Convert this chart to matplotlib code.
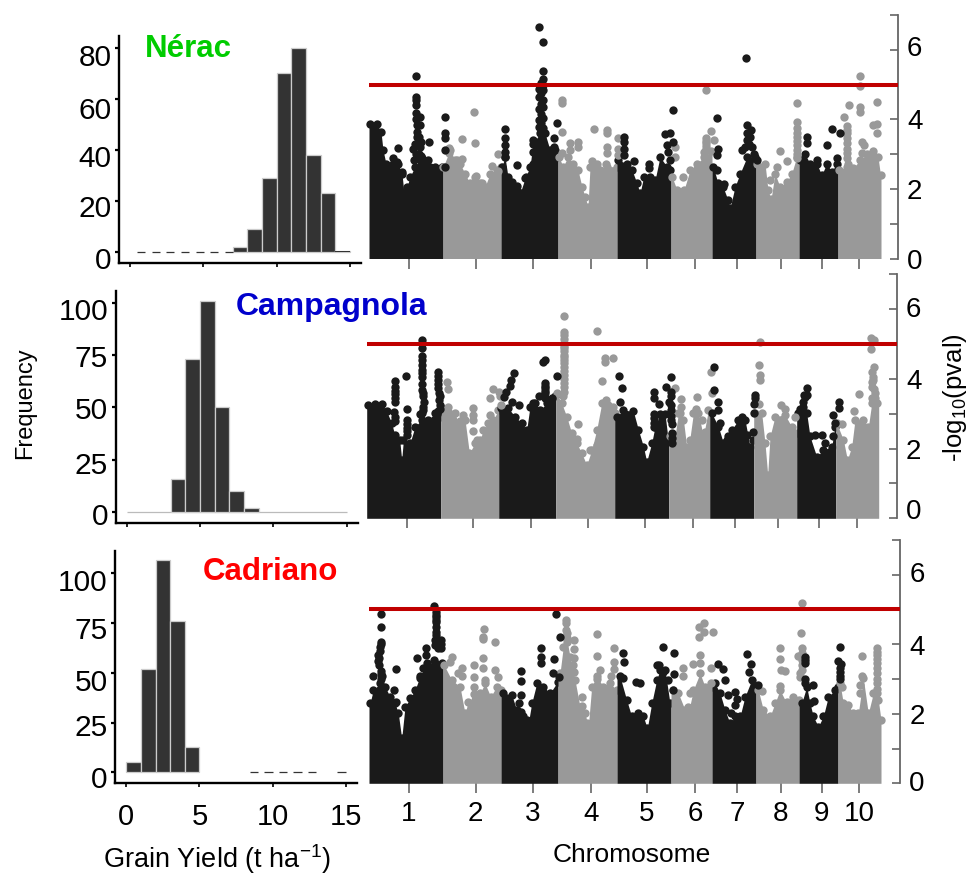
import numpy as np
import matplotlib
matplotlib.use('Agg')
import matplotlib.pyplot as plt
from matplotlib.transforms import ScaledTranslation

plt.rcParams['font.family'] = ['Liberation Sans', 'DejaVu Sans']
plt.rcParams['mathtext.default'] = 'regular'

W, H = 975, 874

# histogrammes (largeur de classe 1 t/ha)
bins = np.arange(16)
nerac_counts = [0, 0, 0, 0, 0, 0, 0, 2, 9, 29, 70, 80, 38, 23, 0.5]
campagnola_counts = [0, 0, 0, 16, 73, 101, 50, 10, 2, 0, 0, 0, 0, 0, 0]
cadriano_counts = [5, 52, 107, 76, 13, 0, 0, 0, 0, 0, 0, 0, 0, 0, 0]
nerac_dash = [0, 1, 2, 3, 4, 5, 6]
cadriano_dash = [8, 9, 10, 11, 12, 14]

# manhattan : position genomique, -log10(p)
chrom_ends = [74, 132, 189, 248, 302, 343, 387, 430, 469, 512]
chrom_ticks = [40, 106.7, 164, 221.7, 278, 326, 368, 411.7, 452.7, 490]
chrom_labels = ['1', '2', '3', '4', '5', '6', '7', '8', '9', '10']
threshold = 5

nerac_top = [(1, 3.88), (8, 3.86), (12, 3.64), (14, 3.12), (17, 2.73), (24, 2.73), (29, 2.73), (33, 2.44),
             (35, 1.87), (38, 2.06), (41, 2.35), (46, 2.64), (51, 2.83), (56, 2.73), (61, 2.64), (66, 2.64), (73, 2.64),
             (74.3, 2.64), (81, 3.12), (86, 2.83), (91, 2.73), (96, 2.44), (101, 2.16), (106, 2.35), (111, 2.16),
             (116, 2.06), (121, 2.44), (128, 2.54), (132, 2.64),
             (133, 2.64), (136, 2.92), (139, 2.35), (143, 2.2), (148, 1.97), (151, 1.87), (156, 2.3), (161, 2.64),
             (164, 3.3), (171, 3.6), (176, 3.6), (181, 3.12), (186, 3.12), (189, 2.92),
             (190, 2.92), (194, 2.64), (199, 2.92), (204, 2.73), (209, 2.54), (213, 2.06), (216, 1.77), (219, 1.49),
             (221, 2.64), (226, 2.64), (231, 2.54), (238, 2.64), (248, 2.64),
             (249, 2.83), (258, 2.73), (263, 2.54), (268, 2.16), (271, 1.87), (274.7, 2.35), (281, 2.35), (286, 2.25),
             (291, 2.92), (298, 2.64), (301, 2.54),
             (303, 2.35), (308, 1.97), (315, 1.97), (321, 2.54), (328, 2.73), (335, 2.92), (342, 3.1),
             (344.3, 2.64), (349, 2.16), (354, 2.06), (359, 1.68), (361, 1.44), (366, 2.06), (371, 2.44), (378, 2.92), (386, 2.92),
             (387.7, 2.73), (396, 2.73), (399, 1.97), (402, 1.7), (406, 2.44), (411, 2.06), (417.7, 2.2), (422.7, 2.44), (427.7, 2.92),
             (431, 2.83), (436, 3.0), (441, 2.73), (447.7, 2.73), (452.7, 2.4), (457.7, 2.73), (462.7, 2.5), (467.7, 2.73),
             (469.7, 2.54), (478, 2.64), (484.3, 2.6), (491, 2.83), (497.7, 3.0), (504.3, 3.1), (509, 2.92), (511.5, 2.4)]
nerac_dark = [(46.7, 5.25), (46.7, 4.65), (46.7, 4.55), (46.7, 4.41), (46.7, 4.17), (51, 4.06), (51, 3.84), (48.3, 3.64),
              (48.3, 3.5), (44.3, 3.16), (51, 3.21), (60.3, 3.36), (28.7, 3.19), (24.3, 2.9), (27.7, 2.76), (32.7, 2.48),
              (59.3, 2.83), (45, 2.83), (51.7, 2.94), (76, 4.07), (76, 3.61), (76, 3.45), (76, 3.12), (76, 2.64),
              (46.7, 4.0), (48, 3.85), (50, 3.5), (46, 3.3), (52, 3.35), (47, 3.0), (50, 3.0), (53, 2.9),
              (170, 6.65), (174.3, 6.21), (174.3, 5.4), (174.3, 5.15), (174.3, 4.99), (170.3, 4.86), (174.3, 4.84),
              (170.3, 4.65), (174.3, 4.55), (170.3, 4.31), (174.3, 4.36), (170.3, 3.98), (174.3, 4.03), (170.3, 3.79),
              (174.3, 3.74), (164.3, 3.4), (185, 3.45), (185, 3.21), (188.3, 3.9), (148.3, 2.68), (136, 3.71), (136, 3.47),
              (136, 3.25), (136, 3.07), (136, 2.92), (156.7, 2.35), (148.3, 2.08), (164.3, 3.07), (164.3, 2.73), (183.7, 3.1),
              (172, 5.05), (172, 4.75), (172.3, 4.45), (172, 4.15), (172, 3.9),
              (255, 3.48), (255, 3.36), (255, 3.16), (255, 2.97), (265, 2.8), (280, 2.73), (280, 2.59), (303.7, 4.28),
              (296, 3.58), (301, 3.6), (303.7, 3.36), (297.7, 3.26), (299.3, 3.07), (301, 2.83),
              (377.3, 5.75), (377.7, 3.85), (382.3, 3.69), (347.7, 4.05), (348.7, 3.16), (347.7, 2.97), (348, 2.54),
              (355.3, 2.13), (378, 3.4), (372.7, 3.12), (381, 3.5), (387.7, 2.83),
              (376, 3.2), (378, 3.6), (380, 3.3), (383, 3.2), (385, 3.0),
              (437.7, 3.5), (437.7, 3.33), (457.7, 3.26), (463, 3.71), (471, 3.6), (447.7, 2.83), (467.7, 2.88)]
nerac_grey = [(105, 4.21), (92.7, 3.43), (106, 3.31), (80.3, 3.19), (80.3, 3.02), (129, 3.01), (122.7, 2.66), (92.7, 2.86),
              (87.7, 2.83), (106.7, 2.37), (112.7, 2.18), (128.7, 2.52),
              (193, 4.55), (193, 4.48), (193, 3.63), (193, 3.02), (201, 3.31), (201, 3.12), (209, 3.34), (209, 3.21),
              (225.3, 3.71), (238, 3.69), (238, 3.62), (238, 3.21), (238, 3.02), (249.3, 3.45), (223.3, 2.81), (227.7, 2.73),
              (249.3, 3.16), (249.3, 2.97), (237, 2.73),
              (337.3, 4.84), (341.7, 3.67), (345, 3.42), (337, 3.45), (337, 3.31), (337, 3.16), (314, 2.35), (329, 2.67),
              (306, 3.21), (306, 2.92), (337, 3.38), (337, 3.24), (335, 3.05),
              (428, 4.46), (428, 3.93), (428, 3.74), (428, 3.5), (428, 3.26), (411.3, 3.1), (418, 2.79), (408.3, 2.62), (401, 2.25),
              (428, 3.62), (428, 3.38), (428, 3.13), (428, 3.0), (428, 2.9),
              (490.7, 5.25), (490.7, 4.97), (490.7, 4.36), (490.7, 4.2), (480.3, 4.41), (474.7, 4.06), (508, 4.49),
              (507.7, 3.88), (504.3, 3.84), (507.7, 3.62), (492.7, 3.36), (495, 3.26), (492.7, 3.02), (478.3, 3.81),
              (478.3, 3.6), (478.3, 3.31), (478.3, 3.02), (479.3, 2.73), (478.3, 3.7), (478.3, 3.45), (478.3, 3.15), (478.3, 2.9)]

campagnola_top = [(1.7, 3.26), (8.3, 3.29), (15, 3.29), (20, 3.07), (25, 2.73), (28, 2.4), (33, 2.25), (35, 1.68), (36.7, 2.25),
                  (43.3, 2.16), (48.3, 2.63), (55, 2.83), (61.7, 2.83), (68.3, 3.02), (73.3, 2.92),
                  (75, 3.16), (81.7, 3.21), (88.3, 3.02), (92.7, 2.63), (98.3, 2.83), (102.7, 1.87), (108.3, 2.16),
                  (113.3, 2.25), (116.7, 2.54), (121.7, 2.73), (126.7, 2.83), (131.7, 3.11),
                  (134, 3.16), (141.7, 3.16), (148.3, 2.92), (155, 2.73), (160, 2.54), (163.3, 3.21), (168.3, 3.3),
                  (173.3, 3.11), (180, 3.3), (188.3, 3.5),
                  (190, 3.59), (195, 3.3), (200, 2.92), (205, 2.44), (210, 2.16), (215, 1.87), (220, 1.53), (225, 1.96),
                  (230, 2.54), (235, 3.3), (241.7, 3.26), (248, 3.02),
                  (250, 2.92), (256.7, 3.11), (266.7, 3.07), (271.7, 2.54), (276.7, 2.06), (280, 1.63), (285, 2.16),
                  (288.3, 2.63), (293.3, 3.0), (298.3, 3.0), (301.7, 2.2),
                  (303.3, 2.35), (308.3, 2.35), (311.7, 3.02), (316.7, 2.83), (320, 2.06), (323, 2.25), (326.7, 3.02),
                  (331.7, 3.02), (336.7, 2.35), (341.7, 3.11),
                  (345, 3.02), (351.7, 2.63), (356.7, 2.16), (361.7, 2.35), (365, 2.54), (371.7, 2.83), (378.3, 2.83),
                  (383.3, 2.06), (386.7, 2.25),
                  (388.3, 3.02), (395, 3.02), (398.3, 2.16), (401, 1.25), (403.3, 2.35), (408.3, 2.92), (418.3, 2.97),
                  (425, 2.63), (430, 2.44),
                  (431.7, 3.02), (440, 3.02), (443.3, 2.35), (450, 1.77), (456.7, 1.96), (465, 2.06), (468.3, 2.63),
                  (470, 2.73), (476.7, 2.25), (480.7, 1.68), (485, 2.06), (488.3, 2.83), (496.7, 2.83), (501.7, 2.63),
                  (505, 3.3), (510, 3.3)]
campagnola_dark = [(55.7, 5.11), (55.7, 4.89), (55.7, 4.66), (55.7, 4.41), (55.7, 4.26), (55.7, 4.07), (55.7, 3.69), (56.7, 3.5),
                   (56.7, 3.21), (28.3, 3.95), (28.3, 3.78), (28.3, 3.57), (28.3, 3.35), (27.7, 3.05), (28.3, 2.78), (39.7, 4.08),
                   (40, 3.13), (40, 2.83), (40, 2.59), (40, 2.39), (71.7, 4.19), (71.7, 3.98), (71.7, 3.74), (73.3, 3.5),
                   (73.3, 3.26), (71.7, 3.07), (55, 3.02),
                   (55.7, 4.55), (55.7, 4.17), (55.7, 3.85), (56, 3.6), (57, 3.35), (56, 3.1), (53, 3.0),
                   (71.7, 4.08), (71.7, 3.86), (72, 3.6), (72, 3.4), (73, 3.15), (70, 3.0), (28.3, 3.65), (28.3, 3.45), (28, 2.9),
                   (40, 2.7), (40, 2.5),
                   (147.7, 4.16), (144.3, 3.97), (143.7, 3.8), (139.7, 3.64), (137.3, 3.48), (145, 3.35), (152.7, 3.24),
                   (178.7, 4.55), (176.3, 4.48), (190.7, 4.1), (178.7, 3.88), (178.7, 3.74), (178.7, 3.59), (172.3, 3.5),
                   (185, 3.45), (166.7, 3.3), (178.7, 3.8), (178.7, 3.65), (178.7, 3.45),
                   (252.7, 4.09), (255.3, 3.73), (253.7, 3.33), (287, 3.62), (292.7, 3.27), (287, 2.87), (287, 2.63),
                   (304.7, 4.06), (299.3, 3.78), (304.7, 3.62), (302, 3.35), (304, 3.11), (304, 2.83), (305, 2.44), (305, 2.16),
                   (304, 3.5), (304, 3.25), (304, 2.95), (305, 2.7), (305, 2.3), (287, 3.45), (287, 3.0), (287, 2.75),
                   (347.7, 4.34), (347.7, 3.67), (351, 3.35), (351, 3.11), (353.7, 2.73), (360, 2.25), (360, 1.9),
                   (388.3, 3.54), (388.3, 3.45), (387.3, 3.29), (387.3, 3.02), (386.7, 2.49), (375, 2.92), (380, 2.39),
                   (440.3, 3.73), (438.3, 3.48), (436.7, 3.35), (435, 3.11), (448.3, 2.39), (455.7, 2.39), (458.3, 2.17),
                   (437, 3.55), (436, 3.2), (433, 3.15), (440, 3.55),
                   (472, 3.35), (472, 3.16), (466.7, 2.97), (468.3, 2.73), (466.7, 2.35)]
campagnola_grey = [(80.3, 3.9), (81, 3.71), (126, 3.72), (123.3, 3.45), (132.3, 3.64), (133, 3.5), (134, 3.26), (123.3, 2.97),
                   (106.7, 3.16), (106.7, 2.97), (106.7, 2.83), (106.7, 2.52), (96.7, 2.97), (110, 2.25), (93.3, 2.78),
                   (197.3, 5.82), (197.3, 5.36), (197.3, 5.27), (197.3, 5.03), (197.3, 4.89), (197.3, 4.69), (197.3, 4.55),
                   (197.3, 4.34), (197.3, 4.12), (197.3, 3.88), (197.3, 3.64), (230.3, 5.39), (238.7, 4.6), (238.7, 4.5),
                   (197.3, 5.15), (197.3, 4.95), (197.3, 4.79), (197.3, 4.62), (197.3, 4.45), (197.3, 4.23), (197.3, 4.0),
                   (197.3, 3.76), (196, 3.5),
                   (246.3, 4.59), (235.7, 3.95), (211.7, 2.72), (210, 2.27), (223.7, 1.96), (230.3, 2.11), (239.3, 3.4), (246, 3.21),
                   (308.7, 3.75), (314.3, 3.42), (314.3, 3.2), (330.7, 3.48), (329, 3.13), (344.3, 4.2), (345, 3.59),
                   (313.3, 3.02), (335, 2.83), (338.3, 2.49),
                   (393.3, 5.06), (392.7, 4.39), (393.3, 4.12), (393.3, 3.98), (392.7, 3.29), (414, 3.24), (418, 3.14), (428, 2.9),
                   (504.3, 5.19), (507.7, 5.11), (504.7, 4.87), (507.7, 4.33), (505, 4.2), (506.7, 3.98), (505, 3.78),
                   (505, 3.45), (508, 3.45), (506, 4.05), (505, 3.9), (507, 3.7),
                   (508.3, 3.59), (492.3, 3.58), (475, 2.71), (487.3, 3.07)]

cadriano_top = [(1, 2.3), (4.3, 2.68), (11, 2.87), (16, 2.78), (21, 2.49), (26, 2.3), (29.3, 2.01), (32.7, 1.29), (36, 2.2),
                (41, 2.44), (46, 2.68), (51, 3.07), (57.7, 3.45), (66, 3.45), (73.3, 3.45),
                (75, 3.4), (82.7, 2.97), (91, 2.78), (96, 2.01), (99.3, 2.35), (106, 2.39), (111, 2.59), (116, 2.87),
                (121.7, 2.49), (127.7, 2.78), (132, 2.68),
                (134.3, 2.59), (142.7, 2.54), (147.7, 2.11), (154.3, 1.92), (159.3, 1.72), (162.7, 2.3), (167.7, 2.87),
                (174.3, 2.78), (181, 2.59), (188.7, 2.92),
                (191, 3.16), (194.3, 3.93), (197.7, 4.17), (201, 3.64), (206, 2.97), (211, 2.2), (216, 2.01), (219.3, 1.63),
                (222.7, 2.78), (227.7, 3.07), (234.3, 2.78), (241, 2.87), (248, 2.68),
                (251, 3.07), (257.7, 2.39), (262.7, 1.92), (269.3, 2.01), (274.3, 1.92), (278.3, 1.58), (282.7, 2.3),
                (287.7, 2.97), (291, 3.26), (296, 3.26), (301, 2.3),
                (304.3, 2.68), (309.3, 2.59), (316, 2.11), (319.3, 2.01), (324.3, 2.68), (331, 3.16), (336, 2.78), (342.7, 2.78),
                (346, 2.87), (351, 2.59), (356, 2.11), (361, 1.72), (366, 1.92), (371, 1.92), (376, 2.49), (382.7, 2.97), (387, 2.78),
                (389.3, 2.68), (394.3, 2.11), (401, 1.92), (406, 2.3), (411, 2.68), (417.7, 2.3), (424.3, 2.49), (430, 2.39),
                (432.7, 2.3), (437.7, 2.78), (441, 2.3), (444.3, 1.92), (449.3, 1.63), (454.3, 1.92), (459.3, 2.49),
                (466, 2.68), (468.7, 2.78),
                (471, 2.87), (474.3, 2.3), (479.3, 2.25), (484.3, 2.01), (489.3, 2.01), (494.3, 3.02), (499.3, 2.01),
                (504.3, 2.59), (509.3, 2.4), (512, 1.82)]
cadriano_dark = [(11.7, 4.87), (11.7, 4.48), (11.7, 4.07), (11, 3.93), (9.3, 3.69), (9.3, 3.52), (11.7, 3.24), (12.7, 3.07),
                 (11.7, 3.99), (10.5, 3.8), (10, 3.6), (10, 3.4), (11.7, 3.15), (12, 3.0),
                 (4, 3.07), (27.3, 3.29), (25, 2.67), (27, 2.33), (65, 5.1), (66.7, 4.93), (66.7, 4.77), (66.7, 4.63),
                 (66.7, 4.36), (66, 4.12), (72, 4.12), (72, 3.88), (66, 3.98), (57.3, 3.89), (47.7, 3.59), (57, 3.69),
                 (66.7, 4.85), (66.7, 4.7), (66.5, 4.5), (66.5, 4.25), (72, 4.0), (68, 4.05), (69, 3.9),
                 (65, 3.54), (53.7, 3.3), (51, 3.02),
                 (186.7, 4.87), (191.3, 4.2), (172.3, 3.88), (172.3, 3.64), (172.3, 3.45), (185, 3.57), (184.3, 3.16), (190, 3.05),
                 (152.3, 3.24), (152, 2.94), (152, 2.54), (150.3, 2.3), (152, 2.06), (157.7, 1.82),
                 (253.7, 3.74), (255.3, 3.5), (253.7, 3.02), (267, 2.92), (271, 2.89), (288.3, 3.4), (294.3, 3.91), (305, 3.75),
                 (290.3, 3.4), (305, 3.13), (294.3, 3.21), (304.3, 2.68), (299.3, 2.97),
                 (348.7, 3.43), (353.7, 3.28), (356, 2.97), (359.3, 2.54), (366, 2.63), (368.3, 2.43), (366, 2.25), (378, 3.71),
                 (382, 3.43), (380.3, 3.21), (389, 2.83), (362, 2.01),
                 (471, 3.91), (468.7, 3.52), (472, 3.43), (471.3, 3.21), (471.3, 3.07), (436.3, 3.62), (436.3, 3.45),
                 (471.3, 3.3), (471, 3.0), (436.3, 3.53), (436.3, 3.0),
                 (436.3, 2.87), (444, 2.83), (444.7, 2.37)]
cadriano_grey = [(115, 4.43), (114.3, 4.21), (114.3, 4.14), (126, 4.05), (82.7, 3.64), (81, 3.5), (92.7, 3.32), (105, 3.4),
                 (105, 3.05), (113.7, 3.59), (113.7, 3.3), (126, 3.26), (129.3, 3.05), (92.7, 3.08), (105, 2.78), (105, 2.56),
                 (116, 2.97), (89.3, 3.16),
                 (197, 4.69), (197, 4.6), (197.7, 4.31), (204.7, 4.11), (204.7, 3.86), (204.3, 3.4), (213.3, 2.49), (212.7, 2.23),
                 (197, 4.4), (197, 4.2), (198, 4.05), (204.5, 3.6), (204.5, 3.2), (228, 3.0),
                 (211, 2.03), (228, 4.3), (228, 3.65), (231, 3.26), (245.3, 3.9), (245.3, 3.5), (245.3, 3.29), (241.7, 3.07), (217.7, 1.72),
                 (335.3, 4.61), (330.3, 4.5), (344.3, 4.34), (335.3, 4.34), (330.3, 4.2), (331, 3.69), (324.3, 3.44), (331, 3.45),
                 (341.7, 3.3), (341.7, 2.87), (314.3, 3.3), (314.3, 3.07), (321, 2.59), (319.3, 2.2),
                 (433, 5.17), (432.3, 4.33), (433.3, 3.88), (429.3, 3.66), (432.7, 3.54), (411.3, 3.88), (411, 3.56), (412.3, 3.26),
                 (433, 3.75), (433, 3.4), (433, 3.25), (431, 3.05),
                 (415.7, 3.22), (410.7, 2.81), (393, 2.66), (418.3, 2.35), (431, 3.16),
                 (508, 3.88), (507.7, 3.69), (507.7, 3.45), (507.7, 3.16), (507.7, 2.87), (507.7, 2.59), (492.7, 3.65), (492.7, 3.07),
                 (507.7, 3.78), (507.7, 3.57), (507.7, 3.3), (507.7, 3.0), (507.7, 2.72),
                 (491, 2.83), (491, 2.59), (472.7, 2.78), (482, 1.87)]

dark_col = '#1a1a1a'
grey_col = '#999999'
red_col = '#c00000'
axis_col = '#666666'
dot = 36


def px_axes(left, top, right, bottom):
    return fig.add_axes([left / W, 1 - bottom / H, (right - left) / W, (bottom - top) / H])


def px_text(x, y, s, **kw):
    fig.text(x / W, 1 - y / H, s, ha='center', va='center', **kw)


def shift_labels(labels, dy_px):
    # les etiquettes ne sont pas tout a fait en face des graduations dans la figure d'origine
    for lab, dy in zip(labels, dy_px):
        lab.set_transform(lab.get_transform() + ScaledTranslation(0, -dy / 100, fig.dpi_scale_trans))


def draw_hist(ax, counts, yticks, ylim, xlim, dy_px, show_x=False):
    ax.bar(bins[:-1], counts, width=1, align='edge', color='#333333', edgecolor='#cccccc', linewidth=0.9)
    ax.set_xlim(xlim)
    ax.set_ylim(ylim)
    ax.set_yticks(yticks)
    ax.set_xticks([0, 5, 10, 15])
    ax.spines[['top', 'right']].set_visible(False)
    ax.spines[['left', 'bottom']].set_linewidth(1.7)
    ax.tick_params(axis='y', labelsize=21.5, length=3, width=1.6, pad=2.5)
    ax.tick_params(axis='x', labelsize=21, length=3, width=1.2, pad=11, labelbottom=show_x)
    shift_labels(ax.get_yticklabels(), dy_px)


def draw_manhattan(ax, top, dark, grey, xmax, dy_px, show_x=False):
    top = np.array(top)
    dark = np.array(dark)
    grey = np.array(grey)
    chrom = np.searchsorted(chrom_ends, top[:, 0])
    starts = [0] + chrom_ends[:-1]
    for i in range(10):
        col = dark_col if i % 2 == 0 else grey_col
        seg = top[chrom == i]
        xs = np.r_[starts[i], seg[:, 0], chrom_ends[i]]
        ys = np.r_[seg[0, 1], seg[:, 1], seg[-1, 1]]
        ax.fill_between(xs, 0, ys, color=col, linewidth=0, zorder=2)
        ax.scatter(seg[:, 0], seg[:, 1], s=dot, color=col, linewidths=0, zorder=2, clip_on=False)
    ax.scatter(grey[:, 0], grey[:, 1], s=dot, color=grey_col, linewidths=0, zorder=3, clip_on=False)
    ax.scatter(dark[:, 0], dark[:, 1], s=dot, color=dark_col, linewidths=0, zorder=4, clip_on=False)
    ax.hlines(threshold, 0, xmax, color=red_col, linewidth=2.9, zorder=5)
    ax.set_xlim(0, xmax)
    ax.set_ylim(0, 7)
    ax.patch.set_visible(False)
    ax.spines[['top', 'left', 'bottom']].set_visible(False)
    ax.spines['right'].set_color(axis_col)
    ax.spines['right'].set_linewidth(1.3)
    ax.set_xticks(chrom_ticks)
    ax.set_xticklabels(chrom_labels if show_x else [])
    ax.yaxis.tick_right()
    ax.set_yticks(range(8))
    ax.set_yticklabels(['0', '', '2', '', '4', '', '6', ''])
    ax.tick_params(axis='y', direction='in', length=5.5, width=1.2, color=axis_col, labelsize=20, pad=6.5)
    ax.tick_params(axis='x', length=7.5, width=1.2, color=axis_col, labelsize=20, pad=5)
    shift_labels(ax.get_yticklabels(), dy_px)


fig = plt.figure(figsize=(W / 100, H / 100), dpi=100)

ax1 = px_axes(119, 36, 360.7, 263.3)
draw_hist(ax1, nerac_counts, [0, 20, 40, 60, 80], (-4.3, 84.6), (-0.75, 15.73), [6, 5, 6, 9, 7])
ax1.hlines(np.zeros(len(nerac_dash)), np.array(nerac_dash) + 0.47, np.array(nerac_dash) + 1.03, color='#333333', linewidth=0.9)
ax1.bar(bins[14], 0.5, width=1, align='edge', color='#333333', linewidth=0)

ax2 = px_axes(115.7, 290.7, 357.7, 522.7)
draw_hist(ax2, campagnola_counts, [0, 25, 50, 75, 100], (-4.96, 105.7), (-0.75, 15.75), [2, 3, 1, 1, 6])
ax2.hlines(0, 0, 15, color='#bbbbbb', linewidth=0.9, zorder=0)

ax3 = px_axes(115.3, 551, 356.7, 783.3)
draw_hist(ax3, cadriano_counts, [0, 25, 50, 75, 100], (-5.5, 111.3), (-0.75, 15.75), [5, 2, 7, 5, 7], show_x=True)
ax3.hlines(np.zeros(len(cadriano_dash)), np.array(cadriano_dash) + 0.43, np.array(cadriano_dash) + 1.0, color='#333333', linewidth=0.9)
for ax in [ax1, ax2, ax3]:
    for patch in ax.patches:
        if patch.get_height() == 0:
            patch.set_visible(False)

ax4 = px_axes(369, 15, 898, 258.5)
draw_manhattan(ax4, nerac_top, nerac_dark, nerac_grey, 529, [0, 0, 0, 0, 0, 0, -4, 0])
ax5 = px_axes(366.7, 274.5, 897, 518.3)
draw_manhattan(ax5, campagnola_top, campagnola_dark, campagnola_grey, 530.3, [-9, 0, 0, 0, 0, 0, -2, 0])
ax6 = px_axes(369, 539.7, 900.3, 783.3)
draw_manhattan(ax6, cadriano_top, cadriano_dark, cadriano_grey, 531.3, [-2, 0, 0, 0, 1, 0, -2, 0], show_x=True)

px_text(188, 49, 'Nérac', color='#00cc00', fontsize=22.5, fontweight='bold')
px_text(332, 307, 'Campagnola', color='#0000cc', fontsize=23, fontweight='bold')
px_text(270, 572, 'Cadriano', color='#ff0000', fontsize=22.5, fontweight='bold')
px_text(25, 403, 'Frequency', fontsize=17, rotation=90)
px_text(217, 859, 'Grain Yield (t ha$^{-1}$)', fontsize=19.5)
px_text(632, 855, 'Chromosome', fontsize=19)
px_text(955, 398, '-log$_{10}$(pval)', fontsize=18.5, rotation=90)

fig.savefig('out.png', dpi=100)
